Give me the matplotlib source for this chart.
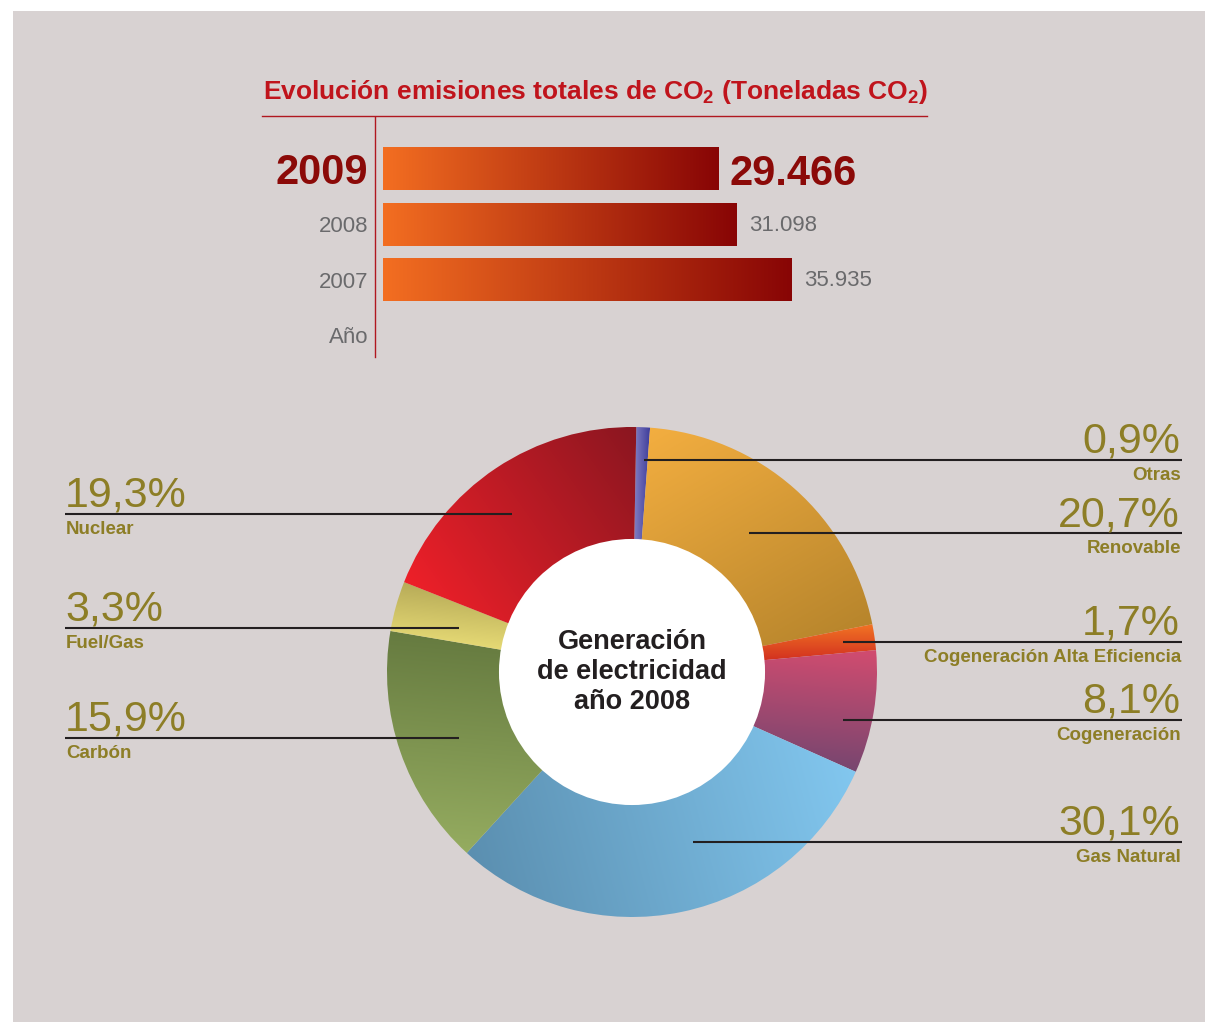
import numpy as np
import matplotlib
matplotlib.use("Agg")
import matplotlib.pyplot as plt
from matplotlib import font_manager
from matplotlib.colors import to_rgb
from matplotlib.patches import Rectangle, Circle

######### Data #########
years = ['2009', '2008', '2007']
emissions = [29466, 31098, 35935]
year_axis_label = 'Año'

sources = ['Otras', 'Renovable', 'Cogeneración Alta Eficiencia', 'Cogeneración',
           'Gas Natural', 'Carbón', 'Fuel/Gas', 'Nuclear']
shares = [0.9, 20.7, 1.7, 8.1, 30.1, 15.9, 3.3, 19.3]

# gradient (start colour, end colour, direction in degrees) per slice
slice_grad = [('#8a86c6', '#3a3a9a', 0),
              ('#f3ae40', '#b7852c', -60),
              ('#f27424', '#c81b1e', -90),
              ('#d24c6f', '#774670', -95),
              ('#5b8fb0', '#82c7ef', 15),
              ('#667b40', '#95ac60', -95),
              ('#b7ab58', '#eee27a', -95),
              ('#ee2029', '#8a1620', 35)]

# label layout in pixels: side, y of leader line, inner x of leader line
label_side = ['R', 'R', 'R', 'R', 'R', 'L', 'L', 'L']
label_y = [460, 533, 642, 720, 842, 738, 628, 514]
label_x0 = [644, 749, 843, 843, 693, 459, 459, 512]

W, H = 1205, 1022
BG = '#d8d2d2'
RED = '#c0141c'
DARK_RED = '#8b0a08'
GREY = '#6a6a6c'
GOLD = '#8d7e26'
INK = '#231f20'

names = {f.name for f in font_manager.fontManager.ttflist}
NARROW = 'Liberation Sans Narrow' if 'Liberation Sans Narrow' in names else 'Liberation Sans'
plt.rcParams['font.family'] = 'Liberation Sans'
plt.rcParams['mathtext.fontset'] = 'custom'
plt.rcParams['mathtext.rm'] = NARROW + ':bold'
plt.rcParams['mathtext.it'] = NARROW + ':bold'
plt.rcParams['mathtext.bf'] = NARROW + ':bold'


def fig_box(x0, y0, x1, y1):
    return [x0 / W, 1 - y1 / H, (x1 - x0) / W, (y1 - y0) / H]


def gradient_fill(ax, patch, c0, c1, angle):
    verts = patch.get_patch_transform().transform_path(patch.get_path()).vertices
    d = np.array([np.cos(np.radians(angle)), np.sin(np.radians(angle))])
    proj = verts @ d
    lo, hi = proj.min(), proj.max()
    xmin, ymin = verts.min(axis=0)
    xmax, ymax = verts.max(axis=0)
    xs = np.linspace(xmin, xmax, 200)
    ys = np.linspace(ymin, ymax, 200)
    X, Y = np.meshgrid(xs, ys)
    t = np.clip((X * d[0] + Y * d[1] - lo) / (hi - lo), 0, 1)[..., None]
    rgb = (1 - t) * np.array(to_rgb(c0)) + t * np.array(to_rgb(c1))
    im = ax.imshow(rgb, extent=(xmin, xmax, ymin, ymax), origin='lower',
                   aspect='auto', interpolation='bilinear', zorder=patch.get_zorder())
    im.set_clip_path(patch)


fig = plt.figure(figsize=(W / 100, H / 100), dpi=100, facecolor='white')
fig.add_artist(Rectangle((13 / W, 0), 1 - 13 / W, 1 - 11 / H, transform=fig.transFigure,
                         facecolor=BG, edgecolor='none', zorder=-10))

######### Bar chart #########
ax = fig.add_axes(fig_box(375, 117, 927, 357))
ax.patch.set_visible(False)
pos = np.arange(len(years))
bars = ax.barh(pos, emissions, height=0.775, color='none', edgecolor='none')
for b in bars:
    gradient_fill(ax, b, '#f36e21', '#880505', 0)
ax.set_xlim(-712, 47800)
ax.set_ylim(3.396, -0.928)
for s in ['top', 'right', 'bottom']:
    ax.spines[s].set_visible(False)
ax.spines['left'].set_color('#b01820')
ax.spines['left'].set_linewidth(1.0)
ax.set_xticks([])
ax.set_yticks(list(pos) + [len(years)])
ax.set_yticklabels(years + [year_axis_label])
ax.tick_params(axis='y', length=0, pad=5)
for i, tl in enumerate(ax.get_yticklabels()):
    if i == 0:
        tl.set_fontsize(30)
        tl.set_fontweight('bold')
        tl.set_color(DARK_RED)
        tl.set_family(NARROW)
    else:
        tl.set_fontsize(16)
        tl.set_color(GREY)
        tl.set_family(NARROW)
for i, v in enumerate(emissions):
    txt = f'{v:,}'.replace(',', '.')
    if i == 0:
        ax.annotate(txt, xy=(v, i), xytext=(8, -4), textcoords='offset points', va='center',
                    fontsize=30, fontweight='bold', color=DARK_RED, family=NARROW)
    else:
        ax.annotate(txt, xy=(v, i), xytext=(9, -1), textcoords='offset points', va='center',
                    fontsize=16, color=GREY, family=NARROW)

######### Donut #########
pax = fig.add_axes(fig_box(387, 427, 877, 917))
pax.patch.set_visible(False)
wedges, _ = pax.pie(shares, radius=1, startangle=89, counterclock=False,
                    colors=['none'] * len(shares), wedgeprops=dict(linewidth=0))
for w, (c0, c1, ang) in zip(wedges, slice_grad):
    gradient_fill(pax, w, c0, c1, ang)
pax.add_patch(Circle((0, 0), 0.543, facecolor='white', edgecolor='none', zorder=5))
pax.set_xlim(-1, 1)
pax.set_ylim(-1, 1)
pax.set_aspect('equal')
pax.axis('off')
pax.text(0, 0, 'Generación\nde electricidad\naño 2008', ha='center', va='center',
         fontsize=19.5, fontweight='bold', color=INK, linespacing=1.18, zorder=6)

######### Overlay: title, leader lines, labels #########
ov = fig.add_axes([0, 0, 1, 1])
ov.patch.set_visible(False)
ov.set_xlim(0, W)
ov.set_ylim(H, 0)
ov.axis('off')

ov.text(263, 99, 'Evolución emisiones totales de CO$_2$ (Toneladas CO$_2$)',
        fontsize=19, fontweight='bold', color=RED, family=NARROW, va='baseline')
ov.plot([262, 927], [116, 116], color='#b01820', lw=1.0)

for name, val, side, y, x0 in zip(sources, shares, label_side, label_y, label_x0):
    pct = f'{val:.1f}'.replace('.', ',') + '%'
    if side == 'R':
        ov.plot([x0, 1182], [y, y], color=INK, lw=1.5, solid_capstyle='butt')
        ov.text(1180, y - 7, pct, ha='right', va='baseline', fontsize=31, color=GOLD)
        ov.text(1181, y + 7, name, ha='right', va='top', fontsize=13.5,
                fontweight='bold', color=GOLD)
    else:
        ov.plot([65, x0], [y, y], color=INK, lw=1.5, solid_capstyle='butt')
        ov.text(65, y - 7, pct, ha='left', va='baseline', fontsize=31, color=GOLD)
        ov.text(66, y + 7, name, ha='left', va='top', fontsize=13.5,
                fontweight='bold', color=GOLD)

fig.savefig('out.png', dpi=100, facecolor='white')
